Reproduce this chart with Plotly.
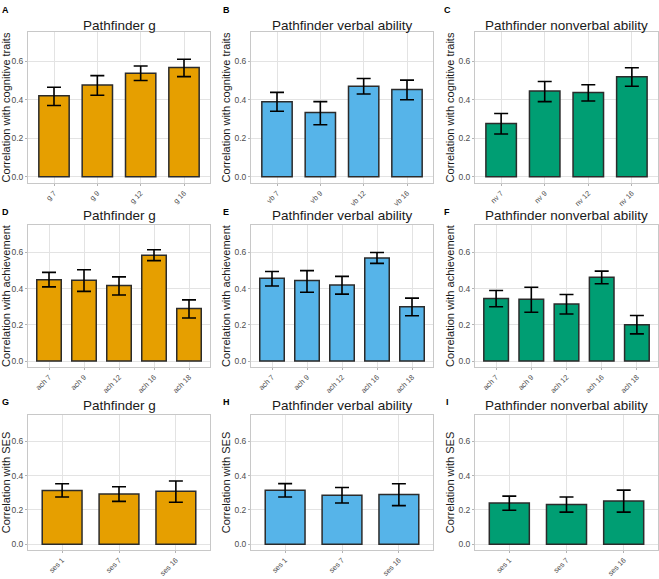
import plotly.graph_objects as go

W, H = 659, 579

# ---- data ----
cog_g_labels = ["g 7", "g 9", "g 12", "g 16"]
cog_g_val = [0.420, 0.477, 0.538, 0.567]
cog_g_lo = [0.370, 0.423, 0.500, 0.520]
cog_g_hi = [0.465, 0.525, 0.575, 0.610]

cog_vb_labels = ["vb 7", "vb 9", "vb 12", "vb 16"]
cog_vb_val = [0.390, 0.333, 0.470, 0.453]
cog_vb_lo = [0.340, 0.270, 0.430, 0.400]
cog_vb_hi = [0.438, 0.390, 0.510, 0.502]

cog_nv_labels = ["nv 7", "nv 9", "nv 12", "nv 16"]
cog_nv_val = [0.276, 0.445, 0.437, 0.520]
cog_nv_lo = [0.222, 0.390, 0.393, 0.470]
cog_nv_hi = [0.328, 0.495, 0.478, 0.566]

ach_labels = ["ach 7", "ach 9", "ach 12", "ach 16", "ach 18"]
ach_g_val = [0.450, 0.447, 0.418, 0.585, 0.290]
ach_g_lo = [0.410, 0.385, 0.365, 0.555, 0.238]
ach_g_hi = [0.490, 0.505, 0.465, 0.615, 0.338]

ach_vb_val = [0.457, 0.445, 0.420, 0.570, 0.300]
ach_vb_lo = [0.415, 0.380, 0.370, 0.540, 0.250]
ach_vb_hi = [0.495, 0.500, 0.468, 0.600, 0.348]

ach_nv_val = [0.345, 0.342, 0.315, 0.463, 0.200]
ach_nv_lo = [0.300, 0.270, 0.260, 0.427, 0.150]
ach_nv_hi = [0.390, 0.408, 0.368, 0.497, 0.252]

ses_labels = ["ses 1", "ses 7", "ses 16"]
ses_g_val = [0.313, 0.293, 0.308]
ses_g_lo = [0.275, 0.250, 0.245]
ses_g_hi = [0.352, 0.335, 0.368]

ses_vb_val = [0.315, 0.285, 0.290]
ses_vb_lo = [0.275, 0.240, 0.225]
ses_vb_hi = [0.353, 0.330, 0.352]

ses_nv_val = [0.240, 0.232, 0.252]
ses_nv_lo = [0.198, 0.187, 0.187]
ses_nv_hi = [0.280, 0.275, 0.315]

titles = ["Pathfinder g", "Pathfinder verbal ability", "Pathfinder nonverbal ability"]
row_ytitles = ["Correlation with cognitive traits", "Correlation with achievement", "Correlation with SES"]
panel_letters = ["A", "B", "C", "D", "E", "F", "G", "H", "I"]
colors = ["#E69F00", "#56B4E9", "#009E73"]
y_ticks = [0.0, 0.2, 0.4, 0.6]

panels = [
    (cog_g_labels, cog_g_val, cog_g_lo, cog_g_hi),
    (cog_vb_labels, cog_vb_val, cog_vb_lo, cog_vb_hi),
    (cog_nv_labels, cog_nv_val, cog_nv_lo, cog_nv_hi),
    (ach_labels, ach_g_val, ach_g_lo, ach_g_hi),
    (ach_labels, ach_vb_val, ach_vb_lo, ach_vb_hi),
    (ach_labels, ach_nv_val, ach_nv_lo, ach_nv_hi),
    (ses_labels, ses_g_val, ses_g_lo, ses_g_hi),
    (ses_labels, ses_vb_val, ses_vb_lo, ses_vb_hi),
    (ses_labels, ses_nv_val, ses_nv_lo, ses_nv_hi),
]

# ---- layout geometry (pixels) ----
col_px = [(28, 210), (251, 433), (475, 658)]
row_px = [(32, 183), (225, 367), (415, 550)]
title_y_px = [26, 215, 405]
letter_y_px = [10, 212, 402]
letter_x_px = [5, 226, 447]

FONT = "Liberation Sans, Arial, Helvetica, sans-serif"
fig = go.Figure()
annotations = []
layout_axes = {}

for i, (labels, vals, lo, hi) in enumerate(panels):
    r, c = divmod(i, 3)
    k = i + 1
    xa = "x" if k == 1 else f"x{k}"
    ya = "y" if k == 1 else f"y{k}"
    plus = [h - v for h, v in zip(hi, vals)]
    minus = [v - l for v, l in zip(vals, lo)]
    fig.add_trace(go.Bar(
        x=labels, y=vals, xaxis=xa, yaxis=ya, width=0.7,
        marker=dict(color=colors[c], line=dict(color="#2b2b2b", width=1.5)),
        error_y=dict(type="data", array=plus, arrayminus=minus, symmetric=False,
                     color="black", thickness=1.6, width=7),
        showlegend=False, hoverinfo="skip",
    ))
    x0, x1 = col_px[c]
    y0, y1 = row_px[r]
    xname = "xaxis" if k == 1 else f"xaxis{k}"
    yname = "yaxis" if k == 1 else f"yaxis{k}"
    n = len(labels)
    layout_axes[xname] = dict(
        domain=[x0 / W, x1 / W], anchor=ya, type="category", automargin=False,
        range=[-0.6, n - 0.4], tickangle=-45,
        tickfont=dict(size=7.4, color="#4d4d4d", family=FONT),
        showgrid=True, gridcolor="#e3e3e3", gridwidth=1,
        showline=True, linecolor="#c8c8c8", linewidth=1, mirror=True,
        ticks="outside", ticklen=2, tickcolor="#b3b3b3", zeroline=False,
    )
    layout_axes[yname] = dict(
        domain=[1 - y1 / H, 1 - y0 / H], anchor=xa, automargin=False,
        range=[-0.033, 0.752], tickvals=y_ticks, ticktext=[f"{t:.1f}" for t in y_ticks],
        tickfont=dict(size=8.5, color="#4d4d4d", family=FONT),
        showgrid=True, gridcolor="#e3e3e3", gridwidth=1,
        showline=True, linecolor="#c8c8c8", linewidth=1, mirror=True,
        ticks="outside", ticklen=2, tickcolor="#b3b3b3", zeroline=False,
        title=dict(text=row_ytitles[r], font=dict(size=11, color="#1a1a1a", family=FONT), standoff=1),
    )
    annotations.append(dict(
        text=titles[c], x=(x0 + x1) / 2 / W, y=1 - title_y_px[r] / H,
        xref="paper", yref="paper", xanchor="center", yanchor="middle",
        showarrow=False, font=dict(size=13.5, color="#1a1a1a", family=FONT),
    ))
    annotations.append(dict(
        text=f"<b>{panel_letters[i]}</b>", x=letter_x_px[c] / W, y=1 - letter_y_px[r] / H,
        xref="paper", yref="paper", xanchor="center", yanchor="middle",
        showarrow=False, font=dict(size=9, color="black", family=FONT),
    ))

fig.update_layout(
    width=W, height=H, margin=dict(l=0, r=0, t=0, b=0, autoexpand=False),
    paper_bgcolor="white", plot_bgcolor="white",
    annotations=annotations, bargap=0.3, **layout_axes,
)

fig.write_html(
    "out.html",
    config={"displayModeBar": False},
    post_script="document.body.style.margin='0';document.body.style.overflow='hidden';",
)
